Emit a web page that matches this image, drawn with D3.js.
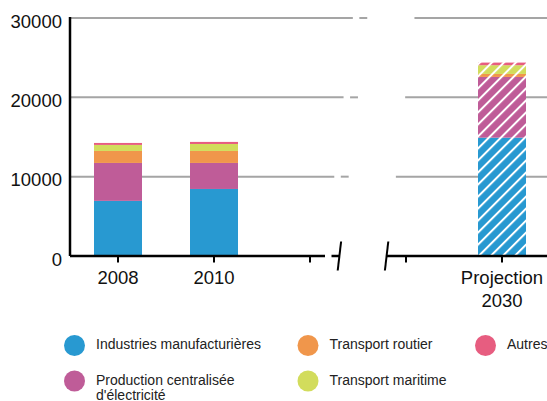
<!DOCTYPE html>
<html>
<head>
<meta charset="utf-8">
<script src="https://cdn.jsdelivr.net/npm/d3@7"></script>
<style>
  html, body { margin: 0; padding: 0; background: #fff; }
  svg { display: block; font-family: "Liberation Sans", Arial, Helvetica, sans-serif; }
</style>
</head>
<body>
<svg id="chart" width="547" height="401"></svg>
<script>
// ── Data ──
const periods = ['2008', '2010', 'gapA', 'gapB', '2030'];
const tickLabels = ['2008', '2010', '', '', 'Projection|2030'];
const projected = ['2030'];

const seriesKeys = ['industries', 'production', 'routier', 'maritime', 'autres'];
const seriesNames = [
  'Industries manufacturières',
  "Production centralisée|d'électricité",
  'Transport routier',
  'Transport maritime',
  'Autres'
];
const seriesColors = ['#2899d1', '#bf5c98', '#f0964b', '#d2dc5c', '#e75d80'];

const industries = [6950, 8450, 0, 0, 14920];
const production = [4780, 3280, 0, 0, 7650];
const routier    = [1510, 1510, 0, 0, 380];
const maritime   = [760, 880, 0, 0, 1100];
const autres     = [250, 260, 0, 0, 330];

const yTicks = [0, 10000, 20000, 30000];

// ── Setup ──
const W = 547, H = 401;
const svg = d3.select('#chart');
const defs = svg.append('defs');

const x = d3.scaleBand().domain(periods).range([70, 550]).paddingInner(0.5).paddingOuter(0.25);
const y = d3.scaleLinear().domain([0, 30000]).range([256, 18]);

const values = { industries, production, routier, maritime, autres };
const rows = periods.map((p, i) => {
  const o = { period: p };
  seriesKeys.forEach((k) => { o[k] = values[k][i]; });
  return o;
});
const stacked = d3.stack().keys(seriesKeys)(rows);

// hatch patterns for the projection
seriesColors.forEach((c, i) => {
  const pat = defs.append('pattern')
    .attr('id', 'hatch' + i)
    .attr('patternUnits', 'userSpaceOnUse')
    .attr('width', 8.5)
    .attr('height', 8.5)
    .attr('patternTransform', 'rotate(45)');
  pat.append('rect').attr('width', 8.5).attr('height', 8.5).attr('fill', c);
  pat.append('rect').attr('width', 2).attr('height', 8.5).attr('fill', '#fff');
});

// ── Broken horizontal lines ──
const bx = (x('gapA') + x('gapB')) / 2 + x.bandwidth() / 2;
const slant = 0.117;
function brokenLine(g, yy, stroke, sw, slashes) {
  const off = (y(0) - yy) * slant;
  const segs = [
    [x.range()[0], bx - 33 + off],
    [bx - 26.5 + off, bx - 18.6 + off],
    [bx + 28.6 + off, W]
  ];
  segs.forEach(([a, b]) => {
    g.append('line')
      .attr('x1', a).attr('x2', b)
      .attr('y1', yy).attr('y2', yy)
      .attr('stroke', stroke)
      .attr('stroke-width', sw);
  });
  if (slashes) {
    [bx - 18.6 + off, bx + 28.6 + off].forEach((sx) => {
      g.append('line')
        .attr('x1', sx + 1.7).attr('y1', yy - 14.5)
        .attr('x2', sx - 1.7).attr('y2', yy + 14.5)
        .attr('stroke', stroke)
        .attr('stroke-width', 2);
    });
  }
}

/* grid */
const grid = svg.append('g');
yTicks.filter((t) => t > 0).forEach((t) => brokenLine(grid, y(t), '#a5a5a5', 2, false));

/* bars */
stacked.forEach((layer, li) => {
  svg.append('g')
    .selectAll('rect')
    .data(layer.filter((d) => d[1] - d[0] > 0))
    .join('rect')
    .attr('x', (d) => x(d.data.period))
    .attr('width', x.bandwidth())
    .attr('y', (d) => y(d[1]))
    .attr('height', (d) => y(d[0]) - y(d[1]))
    .attr('fill', (d) => projected.includes(d.data.period) ? `url(#hatch${li})` : seriesColors[li]);
});

/* x axis */
const axis = svg.append('g');
brokenLine(axis, y(0), '#000', 2.5, true);
axis.selectAll('.tick')
  .data(periods)
  .join('line')
  .attr('x1', (d) => x(d) + x.bandwidth() / 2)
  .attr('x2', (d) => x(d) + x.bandwidth() / 2)
  .attr('y1', y(0))
  .attr('y2', y(0) + 6.5)
  .attr('stroke', '#000')
  .attr('stroke-width', 2);

axis.selectAll('text')
  .data(periods)
  .join('text')
  .attr('text-anchor', 'middle')
  .attr('font-size', 18.5)
  .attr('fill', '#111')
  .each(function(d, i) {
    const lines = tickLabels[i].split('|').filter((s) => s);
    const t = d3.select(this);
    lines.forEach((s, j) => {
      t.append('tspan')
        .attr('x', x(d) + x.bandwidth() / 2)
        .attr('y', y(0) + 28.3 + j * 22.5)
        .text(s);
    });
  });

/* y axis */
svg.append('line')
  .attr('x1', x.range()[0]).attr('x2', x.range()[0])
  .attr('y1', y(30000) - 1).attr('y2', y(0))
  .attr('stroke', '#000')
  .attr('stroke-width', 2.5);

svg.append('g')
  .selectAll('text')
  .data(yTicks)
  .join('text')
  .attr('x', 62)
  .attr('y', (d) => y(d) + 9.5)
  .attr('text-anchor', 'end')
  .attr('font-size', 18.5)
  .attr('fill', '#111')
  .text((d) => d);

// ── Legend ──
const legendOrder = [0, 2, 4, 1, 3];
const legendCols = [74.5, 308, 485.5];
const legendRowsY = [345.5, 381];
const legend = svg.append('g');
legendOrder.forEach((si, k) => {
  const col = k < 3 ? k : k - 3;
  const row = k < 3 ? 0 : 1;
  const lx = legendCols[col];
  const ly = legendRowsY[row];
  legend.append('circle')
    .attr('cx', lx).attr('cy', ly).attr('r', 10.5)
    .attr('fill', seriesColors[si]);
  const t = legend.append('text')
    .attr('font-size', 14)
    .attr('fill', '#222');
  seriesNames[si].split('|').forEach((s, j) => {
    t.append('tspan')
      .attr('x', lx + 21.5)
      .attr('y', ly + 3.5 + j * 15)
      .text(s);
  });
});
</script>
</body>
</html>
